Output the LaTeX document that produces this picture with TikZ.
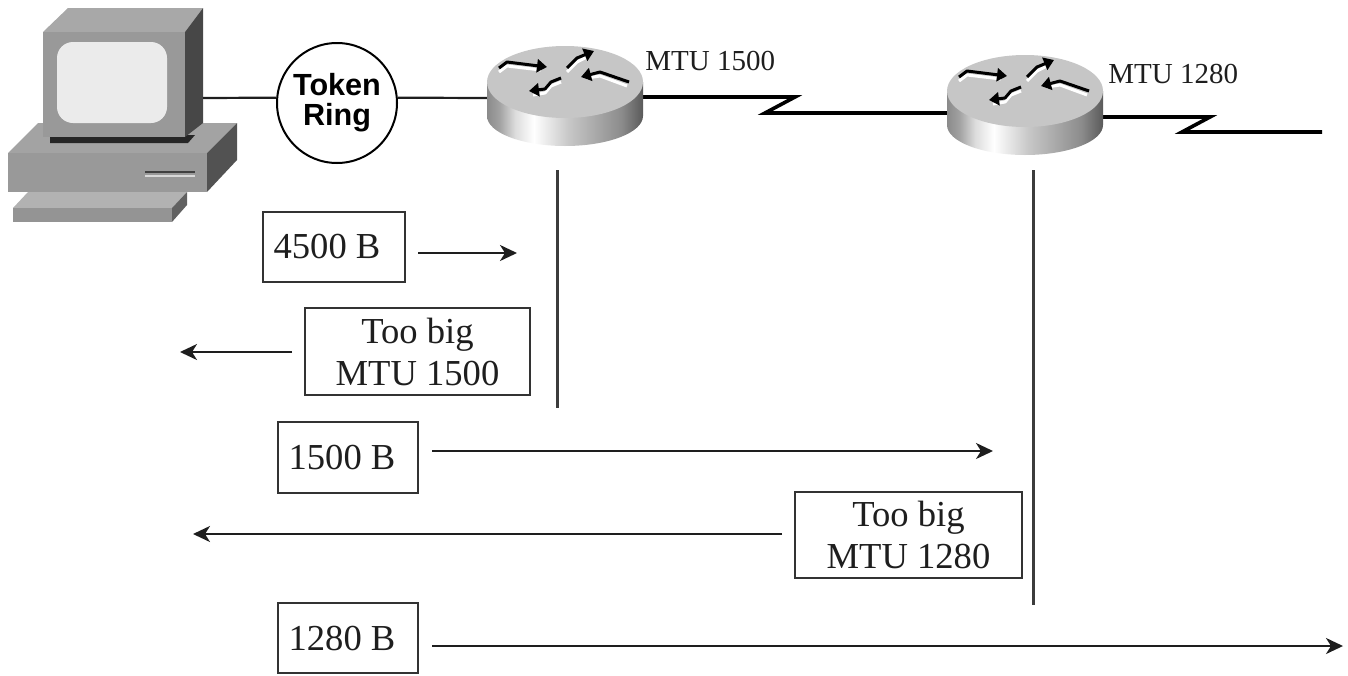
\documentclass[tikz,border=0pt]{standalone}
\usepackage{fontspec}
\setmainfont{Liberation Serif}
\newfontfamily\ringfont{Liberation Sans}
\usetikzlibrary{arrows.meta}

\definecolor{ink}{HTML}{1E1E1E}
\definecolor{boxline}{HTML}{333333}
\definecolor{vgray}{HTML}{3C3C3C}
\definecolor{rs0}{HTML}{8A8A8A}
\definecolor{rs1}{HTML}{A2A2A2}
\definecolor{rs2}{HTML}{DCDCDC}
\definecolor{rs3}{HTML}{E6E6E6}
\definecolor{rs4}{HTML}{C8C8C8}
\definecolor{rs5}{HTML}{A8A8A8}
\definecolor{rs6}{HTML}{8C8C8C}
\definecolor{rs7}{HTML}{5A5A5A}
\definecolor{rtop}{HTML}{C6C6C6}

% side band of a router cylinder, light streak left of middle
\pgfdeclarehorizontalshading{routerside}{100bp}{%
  color(0bp)=(rs0); color(25bp)=(rs0); color(29bp)=(rs1); color(34bp)=(rs2);
  color(40bp)=(white); color(45bp)=(rs3); color(51bp)=(rs4); color(60bp)=(rs5);
  color(68bp)=(rs6); color(75bp)=(rs7); color(100bp)=(rs7)}

% router symbol centred on the middle of its top face
\newcommand\drawrouter[1]{%
  \begin{scope}[shift={#1}]
    \path[shading=routerside] (-78,0) -- (-78,34)
      arc[start angle=180, end angle=0, x radius=78, y radius=30] -- (78,0) -- cycle;
    \fill[rtop] (0,0) ellipse [x radius=78, y radius=36];
    \begin{scope}[iconlight]
      \draw (-66,-10) -- (-58,-16) -- (-24,-12);
      \draw (2,-10) -- (12,-20) -- (24,-26);
      \draw (62,4) -- (35,-6) -- (22,-4);
      \draw (-4,0) -- (-14,4) -- (-20,11) -- (-32,13);
    \end{scope}
    \begin{scope}[icondark]
      \draw[-{Triangle[length=5pt,width=6.5pt]}] (-66,-14) -- (-58,-20) -- (-18,-15);
      \draw[-{Triangle[length=5pt,width=6.5pt]}] (2,-14) -- (12,-24) -- (29,-31);
      \draw[-{Triangle[length=5pt,width=6.5pt]}] (64,0) -- (35,-10) -- (16,-5);
      \draw[-{Triangle[length=5pt,width=6.5pt]}] (-4,-4) -- (-14,0) -- (-20,7) -- (-36,9);
    \end{scope}
  \end{scope}}

\begin{document}
\begin{tikzpicture}[x=0.5pt, y=-0.5pt,
  box/.style={draw=boxline, line width=1.2pt, inner sep=0pt, text=ink,
    font=\fontsize{18.3}{21}\selectfont},
  twoline/.style={box, align=center},
  flow/.style={draw=ink, line width=1.1pt,
    -{Stealth[length=8.5pt, width=8pt, inset=2.5pt]}},
  serial/.style={draw=black, line width=1.8pt, line join=miter},
  lan/.style={draw=ink, line width=1.1pt},
  vline/.style={draw=vgray, line width=1.5pt},
  mtu/.style={font=\fontsize{14.5}{16}\selectfont, text=ink, inner sep=0pt, anchor=base west},
  icondark/.style={draw=black, line width=1.5pt, line join=round},
  iconlight/.style={draw=white, line width=1.5pt, line join=round},
  ring/.style={circle, draw=black, line width=1pt, minimum size=60pt, inner sep=0pt,
    align=center, font=\ringfont\bfseries\fontsize{15.3}{15}\selectfont},
]
\useasboundingbox (0,0) rectangle (1348,675);

% ---- workstation ----
% desktop case
\fill[black!36] (8,153) -- (38,123) -- (237,123) -- (207,153) -- cycle;
\fill[black!40] (8,153) rectangle (207,192);
\fill[black!68] (207,153) -- (237,123) -- (237,160) -- (207,192) -- cycle;
\draw[black!75, line width=1.2pt] (145,172) -- (195,172);
\draw[black!15, line width=0.8pt] (145,176) -- (195,176);
% keyboard
\fill[black!30] (28,192) -- (187,192) -- (172,208) -- (13,208) -- cycle;
\fill[black!42] (13,208) rectangle (172,222);
\fill[black!62] (172,208) -- (187,192) -- (187,205) -- (172,222) -- cycle;
% monitor
\fill[black!85] (50,135) -- (195,135) -- (188,143) -- (50,143) -- cycle;
\fill[black!34] (43,32) -- (68,8) -- (203,8) -- (185,32) -- cycle;
\fill[black!40] (43,32) rectangle (185,137);
\fill[black!72] (185,32) -- (203,8) -- (203,123) -- (185,137) -- cycle;
\fill[black!8, rounded corners=8pt] (57,42) rectangle (167,123);
\coordinate (pc) at (203,98);

% ---- network ----
\node[ring] (tr) at (337,103) {Token\\Ring};

\coordinate (r1in)  at (487,98);
\coordinate (r1out) at (643,97);
\coordinate (r2in)  at (948,113);
\coordinate (r2out) at (1103,117);
\coordinate (wanend) at (1322,132);

\draw[lan] (pc) -- (tr.175);
\draw[lan] (tr.5) -- (r1in);
\draw[serial] (r1out) -- (795,97) -- (765,113) -- (r2in);
\draw[serial] (r2out) -- (1210,117) -- (1182,132) -- (wanend);

\drawrouter{(565,82)}
\drawrouter{(1025,91)}

\node[mtu] (m1) at (645,70) {MTU 1500};
\node[mtu] (m2) at (1108,83) {MTU 1280};

% ---- router time lines ----
\coordinate (v1top) at (557,170);
\coordinate (v1bot) at (557,408);
\coordinate (v2top) at (1033,170);
\coordinate (v2bot) at (1033,605);
\draw[vline] (v1top) -- (v1bot);
\draw[vline] (v2top) -- (v2bot);

% ---- packets and replies ----
\node[box, minimum width=71pt, minimum height=35pt] (p4500) at (334,247) {4500 B\hspace*{7pt}};
\node[twoline, minimum width=112.5pt, minimum height=43.5pt] (e1500) at (417.5,351.5) {Too big\\MTU 1500};
\node[box, minimum width=70pt, minimum height=35.5pt] (p1500) at (348,457.5) {1500 B\hspace*{6pt}};
\node[twoline, minimum width=113.5pt, minimum height=43pt] (e1280) at (908.5,535) {Too big\\MTU 1280};
\node[box, minimum width=70pt, minimum height=35pt] (p1280) at (348,638) {1280 B\hspace*{6pt}};

\coordinate (f1s) at (418,253);  \coordinate (f1e) at (517,253);
\coordinate (f2s) at (292,352);  \coordinate (f2e) at (180,352);
\coordinate (f3s) at (432,451);  \coordinate (f3e) at (993,451);
\coordinate (f4s) at (782,534);  \coordinate (f4e) at (193,534);
\coordinate (f5s) at (432,646);  \coordinate (f5e) at (1343,646);

\draw[flow] (f1s) -- (f1e);
\draw[flow] (f2s) -- (f2e);
\draw[flow] (f3s) -- (f3e);
\draw[flow] (f4s) -- (f4e);
\draw[flow] (f5s) -- (f5e);
\end{tikzpicture}
\end{document}
